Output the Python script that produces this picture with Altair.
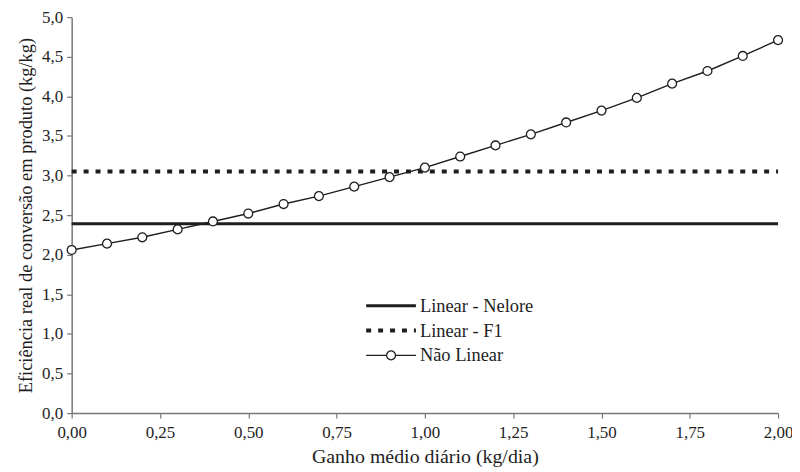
import altair as alt
import pandas as pd

# Data
gmd = [0.0, 0.1, 0.2, 0.3, 0.4, 0.5, 0.6, 0.7, 0.8, 0.9, 1.0,
       1.1, 1.2, 1.3, 1.4, 1.5, 1.6, 1.7, 1.8, 1.9, 2.0]
nao_linear = [2.06, 2.14, 2.22, 2.32, 2.42, 2.52, 2.64, 2.74, 2.86, 2.98, 3.10,
              3.24, 3.38, 3.52, 3.67, 3.82, 3.98, 4.16, 4.32, 4.51, 4.71]
linear_nelore = 2.39
linear_f1 = 3.05
series_labels = ["Linear - Nelore", "Linear - F1", "Não Linear"]
x_ticks = [0, 0.25, 0.5, 0.75, 1.0, 1.25, 1.5, 1.75, 2.0]
y_ticks = [0, 0.5, 1, 1.5, 2, 2.5, 3, 3.5, 4, 4.5, 5]

FONT = "Liberation Serif, Times New Roman, serif"
INK = "#1e1e1e"

df_nl = pd.DataFrame({"x": gmd, "y": nao_linear})
df_lin = pd.DataFrame({
    "x0": [min(gmd), min(gmd)],
    "x1": [max(gmd), max(gmd)],
    "y": [linear_nelore, linear_f1],
    "serie": series_labels[:2],
})

xscale = alt.Scale(domain=[0, 2], nice=False, zero=False)
yscale = alt.Scale(domain=[0, 5], nice=False)

x_axis = alt.Axis(
    title="Ganho médio diário (kg/dia)",
    values=x_ticks,
    labelExpr="replace(format(datum.value, '.2f'), '.', ',')",
    grid=False, tickSize=5, labelPadding=7, titlePadding=6,
    labelFlush=False, labelOverlap=False,
    labelFont=FONT, titleFont=FONT, labelFontSize=17, titleFontSize=20,
)
y_axis = alt.Axis(
    title="Eficiência real de conversão em produto (kg/kg)",
    values=y_ticks,
    labelExpr="replace(format(datum.value, '.1f'), '.', ',')",
    grid=False, tickSize=5, labelPadding=4, titlePadding=6,
    labelFlush=False, labelOverlap=False,
    labelFont=FONT, titleFont=FONT, labelFontSize=17, titleFontSize=18.5,
)

nelore = alt.Chart(df_lin[df_lin.serie == series_labels[0]]).mark_rule(
    color=INK, strokeWidth=3
).encode(
    x=alt.X("x0:Q", scale=xscale, axis=x_axis),
    x2="x1:Q",
    y=alt.Y("y:Q", scale=yscale, axis=y_axis),
)

f1 = alt.Chart(df_lin[df_lin.serie == series_labels[1]]).mark_rule(
    color=INK, strokeWidth=4, strokeDash=[5, 7]
).encode(
    x=alt.X("x0:Q", scale=xscale, axis=x_axis),
    x2="x1:Q",
    y=alt.Y("y:Q", scale=yscale, axis=y_axis),
)

nl_line = alt.Chart(df_nl).mark_line(color=INK, strokeWidth=1.4).encode(
    x=alt.X("x:Q", scale=xscale, axis=x_axis),
    y=alt.Y("y:Q", scale=yscale, axis=y_axis),
)
nl_pts = alt.Chart(df_nl).mark_point(
    shape="circle", filled=True, fill="white", stroke=INK, strokeWidth=1.3, size=80, opacity=1
).encode(
    x=alt.X("x:Q", scale=xscale, axis=x_axis),
    y=alt.Y("y:Q", scale=yscale, axis=y_axis),
)

# Manual legend (pixel positions inside the plot area)
leg = pd.DataFrame({"label": series_labels})
rows = [alt.Chart(leg.iloc[[i]]) for i in range(3)]
LY = [290, 315, 340]

leg_nelore = rows[0].mark_rule(color=INK, strokeWidth=3).encode(
    x=alt.value(296), x2=alt.value(346), y=alt.value(LY[0]))
leg_f1 = rows[1].mark_rule(color=INK, strokeWidth=4, strokeDash=[5, 7]).encode(
    x=alt.value(296), x2=alt.value(346), y=alt.value(LY[1]))
leg_nl = rows[2].mark_rule(color=INK, strokeWidth=1.4).encode(
    x=alt.value(296), x2=alt.value(346), y=alt.value(LY[2]))
leg_nl_pt = rows[2].mark_point(
    shape="circle", filled=True, fill="white", stroke=INK, strokeWidth=1.3, size=80, opacity=1
).encode(x=alt.value(321), y=alt.value(LY[2]))
leg_texts = [
    rows[i].mark_text(
        align="left", baseline="middle", font=FONT, fontSize=18.5, color=INK
    ).encode(x=alt.value(350), y=alt.value(LY[i]), text="label:N")
    for i in range(3)
]

chart = alt.layer(
    nelore, f1, nl_line, nl_pts, leg_nelore, leg_f1, leg_nl, leg_nl_pt, *leg_texts
).properties(
    width=710, height=398,
    autosize=alt.AutoSizeParams(type="none"),
    padding={"left": 64, "top": 8, "right": 14, "bottom": 58},
).configure_view(stroke=None).configure_axis(
    domainColor="#777777", domainWidth=1.5, tickColor="#777777", tickWidth=1.2,
    labelColor=INK, titleColor=INK, titleFontWeight="normal",
)

chart.save("out.html", embed_options={"renderer": "svg", "actions": False})
